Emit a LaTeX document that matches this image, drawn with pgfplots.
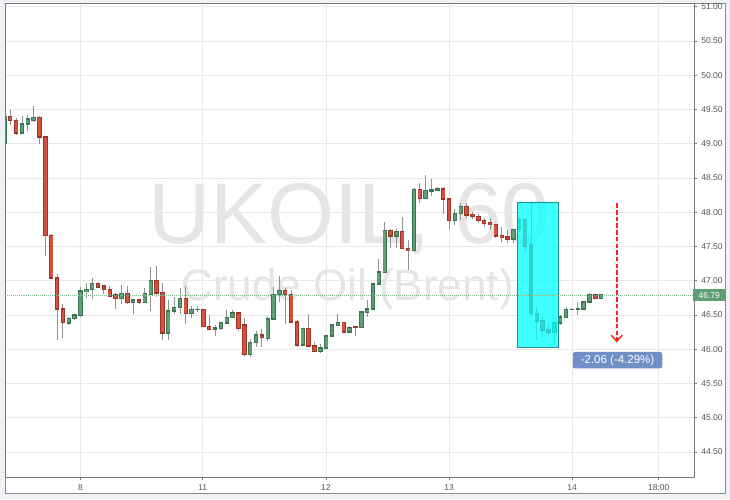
\documentclass[border=0pt]{standalone}
\usepackage{fontspec}
\setmainfont{Liberation Sans}
\usepackage{pgfplots}
\usepackage{pgfplotstable}
\pgfplotsset{compat=1.18}
\usetikzlibrary{arrows.meta}

\definecolor{redfill}{HTML}{D6513F}
\definecolor{redline}{HTML}{9E3527}
\definecolor{grnfill}{HTML}{5E9F78}
\definecolor{grnline}{HTML}{3B7552}
\definecolor{wick}{HTML}{939393}
\definecolor{gridc}{HTML}{E8E8E8}
\definecolor{axisc}{HTML}{7A7A7A}
\definecolor{framec}{HTML}{8C8C8C}
\definecolor{labc}{HTML}{555555}
\definecolor{wm}{HTML}{E5E5E5}
\definecolor{boxc}{HTML}{00FFFF}
\definecolor{boxl}{HTML}{1E8C8C}
\definecolor{chg}{HTML}{6F8FC6}
\definecolor{pricec}{HTML}{5E9F74}
\definecolor{pricedot}{HTML}{7DBB8F}
\definecolor{bg}{HTML}{EEF2F6}
\definecolor{arrowc}{HTML}{FF2424}

\pgfplotstableread{
i o h l c
1 49.40 49.49 49.27 49.34
2 49.34 49.37 49.13 49.16
6 49.38 49.41 49.00 49.10
7 49.10 49.11 47.36 47.66
8 47.66 47.68 47.04 47.04
9 47.04 47.10 46.13 46.59
10 46.59 46.66 46.16 46.39
16 46.96 46.98 46.90 46.91
17 46.92 46.93 46.80 46.87
18 46.87 46.92 46.77 46.78
19 46.79 46.82 46.58 46.74
21 46.81 46.92 46.66 46.68
23 46.72 46.73 46.66 46.68
26 47.00 47.21 46.76 46.82
27 46.83 46.96 46.13 46.24
31 46.74 46.93 46.37 46.52
34 46.58 46.59 46.32 46.33
35 46.33 46.50 46.28 46.29
40 46.53 46.55 46.27 46.30
41 46.35 46.46 45.89 45.92
44 46.21 46.30 46.03 46.17
48 46.86 46.89 46.37 46.80
49 46.80 46.86 46.39 46.40
50 46.40 46.42 46.03 46.06
52 46.30 46.51 46.03 46.05
53 46.05 46.11 45.96 45.97
58 46.39 46.40 46.24 46.25
60 46.33 46.34 46.19 46.32
66 47.73 47.75 47.48 47.65
68 47.72 47.93 47.46 47.47
69 47.47 47.60 47.16 47.44
71 48.33 48.43 48.13 48.20
75 48.34 48.37 47.97 48.19
76 48.19 48.20 47.76 47.88
79 48.08 48.14 47.91 47.96
80 47.97 48.00 47.90 47.94
81 47.94 47.98 47.84 47.88
82 47.88 47.91 47.79 47.84
83 47.85 47.91 47.74 47.82
84 47.82 47.83 47.62 47.65
85 47.66 47.79 47.57 47.63
86 47.64 47.74 47.55 47.61
89 47.89 47.91 47.42 47.50
90 47.52 48.13 46.47 46.52
91 46.52 46.62 46.13 46.41
92 46.41 46.47 46.18 46.28
93 46.29 46.38 46.18 46.25
101 46.79 46.80 46.73 46.74
}\redc

\pgfplotstableread{
i o h l c
0 49.00 49.42 48.98 49.40
3 49.16 49.41 49.16 49.29
4 49.29 49.42 49.18 49.36
5 49.35 49.55 49.32 49.38
11 46.38 46.47 46.35 46.45
12 46.45 46.52 46.42 46.50
13 46.49 46.91 46.47 46.85
14 46.84 46.96 46.75 46.87
15 46.87 47.04 46.73 46.96
20 46.74 46.94 46.66 46.81
22 46.68 46.74 46.51 46.72
24 46.68 46.89 46.67 46.81
25 46.80 47.20 46.56 47.00
28 46.24 46.72 46.13 46.56
29 46.56 46.76 46.52 46.61
30 46.61 46.89 46.52 46.74
32 46.52 46.63 46.46 46.58
33 46.58 46.63 46.54 46.58
36 46.29 46.35 46.20 46.31
37 46.30 46.40 46.28 46.39
38 46.38 46.57 46.38 46.46
39 46.46 46.57 46.45 46.53
42 45.92 46.15 45.89 46.10
43 46.10 46.27 46.03 46.21
45 46.16 46.48 46.12 46.44
46 46.44 46.91 46.42 46.80
47 46.80 47.07 46.69 46.86
51 46.06 46.31 46.04 46.30
54 45.97 46.07 45.95 46.02
55 46.02 46.21 46.01 46.19
56 46.19 46.37 46.18 46.35
57 46.35 46.52 46.34 46.39
59 46.25 46.34 46.24 46.32
61 46.32 46.55 46.31 46.54
62 46.54 46.72 46.47 46.59
63 46.59 46.96 46.57 46.95
64 46.95 47.31 46.95 47.13
65 47.12 47.85 47.11 47.73
67 47.65 47.75 47.48 47.72
70 47.44 48.35 47.42 48.33
72 48.20 48.54 48.19 48.32
73 48.31 48.49 48.23 48.33
74 48.32 48.37 48.31 48.34
77 47.88 48.05 47.81 47.98
78 47.98 48.14 47.88 48.08
87 47.61 47.75 47.55 47.75
88 47.75 47.93 47.71 47.89
94 46.25 46.41 46.06 46.38
95 46.38 46.50 46.35 46.47
96 46.46 46.62 46.45 46.58
97 46.58 46.60 46.57 46.58
98 46.58 46.69 46.50 46.59
99 46.59 46.70 46.58 46.69
100 46.69 46.82 46.68 46.79
102 46.74 46.79 46.73 46.79
}\grnc

\pgfplotsset{
  wickplot/.style={draw=none, mark=none, forget plot,
    error bars/.cd, y dir=minus, y explicit, error mark=none,
    error bar style={draw=wick, line width=0.9pt, solid}},
  bodyplot/.style n args={2}{draw=none, mark=none, forget plot,
    error bars/.cd, y dir=both, y explicit, error mark=none,
    error bar style={draw=#1, line width=#2, solid}},
}

\begin{document}
\begin{tikzpicture}
\fill[bg] (0,0) rectangle (730pt,499pt);
\filldraw[fill=white, draw=framec, line width=0.8pt] (5.5pt,6pt) rectangle (725pt,495.7pt);
% watermark
\node[text=wm, font=\fontsize{86}{86}\selectfont, anchor=base, inner sep=0pt] at (349pt,255.7pt) {UKOIL, 60};
\node[text=wm, font=\fontsize{44}{44}\selectfont, anchor=base, inner sep=0pt] at (347.5pt,199pt) {Crude Oil (Brent)};
\begin{axis}[
  at={(5.5pt,21.7pt)}, anchor=south west,
  scale only axis, width=689.1pt, height=474pt,
  xmin=0.18, xmax=117.97, ymin=44.13, ymax=51.05,
  clip mode=individual,
  axis line style={draw=axisc, line width=0.8pt},
  xtick={13,33.9,54.95,75.99,97.02,111.84},
  xticklabels={8,11,12,13,14,18:00},
  ytick={44.5,45,45.5,46,46.5,47,47.5,48,48.5,49,49.5,50,50.5,51},
  grid=major, major grid style={draw=gridc, line width=0.8pt},
  tick align=outside, major tick length=2.7pt,
  tick style={draw=axisc, line width=0.6pt},
  xtick pos=left, ytick pos=right, yticklabel pos=right,
  /pgf/number format/assume math mode=true,
  ticklabel style={font=\fontsize{8.5}{10}\selectfont, text=labc},
  yticklabel style={/pgf/number format/fixed, /pgf/number format/fixed zerofill,
    /pgf/number format/precision=2, anchor=west, inner sep=0pt, xshift=3.8pt},
  xticklabel style={anchor=north, inner sep=0pt, yshift=-4.2pt},
]
% wicks
\addplot [wickplot] table [x=i, y=h, y error minus expr={\thisrow{h}-\thisrow{l}}] {\redc};
\addplot [wickplot] table [x=i, y=h, y error minus expr={\thisrow{h}-\thisrow{l}}] {\grnc};
% bodies: outline then fill
\addplot [bodyplot={redline}{4.4pt}] table [x=i, y expr={(\thisrow{o}+\thisrow{c})/2}, y error expr={abs(\thisrow{o}-\thisrow{c})/2+0.011}] {\redc};
\addplot [bodyplot={redfill}{2.8pt}] table [x=i, y expr={(\thisrow{o}+\thisrow{c})/2}, y error expr={max(abs(\thisrow{o}-\thisrow{c})/2-0.011,0)}] {\redc};
\addplot [bodyplot={grnline}{4.4pt}] table [x=i, y expr={(\thisrow{o}+\thisrow{c})/2}, y error expr={abs(\thisrow{o}-\thisrow{c})/2+0.011}] {\grnc};
\addplot [bodyplot={grnfill}{2.8pt}] table [x=i, y expr={(\thisrow{o}+\thisrow{c})/2}, y error expr={max(abs(\thisrow{o}-\thisrow{c})/2-0.011,0)}] {\grnc};

% highlighted box
\addplot [fill=boxc, fill opacity=0.75, draw=boxl, line width=0.8pt, forget plot]
  coordinates {(87.67,46.03) (94.68,46.03) (94.68,48.15) (87.67,48.15) (87.67,46.03)};

% current price line
\addplot [pricedot, line width=0.7pt, dash pattern=on 1pt off 1pt, forget plot] coordinates {(0.18,46.79) (117.97,46.79)};

% red arrow
\addplot [arrowc, line width=1.8pt, dash pattern=on 4.5pt off 2.2pt, forget plot,
  -{Straight Barb[length=6pt, width=11pt, line width=1.5pt]}]
  coordinates {(104.66,48.13) (104.66,46.10)};

\node[fill=chg, text=white, rounded corners=2.5pt, minimum width=89.6pt, minimum height=16.6pt,
  inner sep=0pt, font=\fontsize{11.5}{12}\selectfont] at (axis cs:104.8,45.84) {-2.06 (-4.29\%)};
\node[fill=pricec, text=white, anchor=west, minimum width=32pt, minimum height=11.7pt,
  inner sep=0pt, font=\fontsize{8.5}{10}\selectfont, xshift=-1.6pt] at (axis cs:117.97,46.79) {46.79};
\end{axis}
\pgfresetboundingbox
\useasboundingbox (0,0) rectangle (730pt,499pt);
\end{tikzpicture}
\end{document}
